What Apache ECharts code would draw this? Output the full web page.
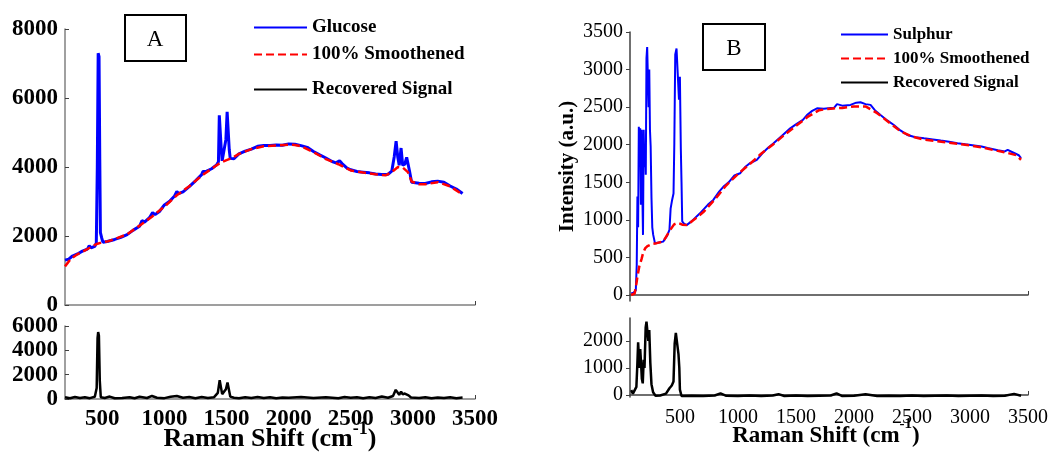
<!DOCTYPE html>
<html>
<head>
<meta charset="utf-8">
<script src="https://cdn.jsdelivr.net/npm/echarts@6/dist/echarts.min.js"></script>
<style>
html, body { margin: 0; padding: 0; background: #fff; }
#chart { width: 1048px; height: 455px; }
</style>
</head>
<body>
<div id="chart"></div>
<script>
// tick values
var xTicks = [500, 1000, 1500, 2000, 2500, 3000, 3500];
var yTicksATop = [0, 2000, 4000, 6000, 8000];
var yTicksABottom = [0, 2000, 4000, 6000];
var yTicksBTop = [0, 500, 1000, 1500, 2000, 2500, 3000, 3500];
var yTicksBBottom = [0, 1000, 2000];

// panel A: glucose spectrum [shift, intensity]
var glucose = [[200,1300],[230,1330],[260,1420],[300,1480],[340,1560],[380,1620],[395,1720],[410,1660],[440,1700],[452,1800],[460,4000],[467,7300],[474,7200],[480,4200],[485,2100],[495,1950],[505,1820],[540,1840],[600,1900],[650,1960],[700,2040],[750,2170],[800,2280],[820,2450],[840,2400],[880,2530],[905,2680],[925,2620],[960,2710],[1000,2900],[1040,3000],[1080,3150],[1100,3290],[1115,3230],[1150,3280],[1200,3430],[1250,3600],[1300,3780],[1310,3870],[1340,3880],[1380,3950],[1420,4060],[1435,4150],[1442,5500],[1450,5550],[1458,4500],[1465,4180],[1475,4200],[1495,4800],[1505,5600],[1513,5550],[1522,4500],[1530,4250],[1560,4240],[1600,4380],[1650,4460],[1700,4520],[1750,4600],[1800,4620],[1850,4620],[1900,4640],[1950,4630],[2000,4670],[2050,4660],[2100,4620],[2150,4570],[2200,4450],[2250,4350],[2300,4260],[2350,4160],[2380,4120],[2410,4180],[2430,4100],[2470,3970],[2500,3920],[2550,3870],[2600,3850],[2650,3830],[2700,3800],[2750,3780],[2800,3790],[2830,3880],[2850,4300],[2865,4750],[2878,4300],[2890,4050],[2905,4550],[2918,4050],[2935,4080],[2950,4280],[2962,4250],[2972,3900],[2990,3560],[3050,3530],[3100,3520],[3150,3570],[3200,3590],[3250,3560],[3300,3450],[3350,3360],[3400,3230]];
var glucoseSmooth = [[200,1120],[250,1350],[300,1470],[350,1560],[400,1660],[450,1760],[500,1820],[550,1850],[600,1910],[700,2050],[800,2300],[900,2560],[1000,2850],[1100,3180],[1200,3440],[1300,3750],[1400,4000],[1450,4120],[1500,4200],[1550,4270],[1600,4380],[1700,4520],[1800,4600],[1900,4620],[2000,4650],[2050,4640],[2100,4600],[2200,4430],[2300,4230],[2400,4080],[2500,3900],[2600,3840],[2700,3790],[2780,3760],[2830,3850],[2880,4000],[2920,3980],[2960,3850],[2990,3580],[3050,3500],[3100,3500],[3200,3560],[3300,3440],[3400,3200]];
var glucoseRecovered = [[200,150],[240,60],[280,160],[320,80],[360,150],[400,70],[440,180],[455,900],[462,5000],[467,5500],[473,5200],[480,1500],[488,150],[520,80],[560,200],[600,60],[660,80],[720,150],[760,60],[800,180],[860,80],[900,250],[940,100],[1000,70],[1050,180],[1100,250],[1150,100],[1200,160],[1250,60],[1300,170],[1350,80],[1400,150],[1430,500],[1445,1550],[1455,1400],[1465,400],[1480,250],[1495,800],[1508,1350],[1518,1200],[1530,200],[1560,100],[1600,70],[1650,150],[1700,80],[1750,160],[1800,80],[1850,140],[1900,60],[1950,120],[2000,100],[2100,160],[2200,80],[2300,150],[2400,70],[2450,160],[2500,100],[2550,140],[2600,60],[2650,150],[2700,80],[2750,200],[2800,100],[2840,250],[2862,750],[2875,650],[2890,350],[2905,600],[2918,380],[2935,450],[2950,550],[2965,300],[2985,120],[3050,80],[3100,150],[3150,60],[3200,120],[3250,80],[3300,150],[3350,70],[3400,120]];

// panel B: sulphur spectrum
var sulphur = [[80,20],[100,30],[120,60],[128,400],[134,1310],[140,900],[146,2240],[152,2000],[158,2220],[164,1200],[170,2200],[176,1400],[182,800],[188,2200],[194,1700],[200,2000],[206,1600],[212,3150],[218,3300],[224,3305],[230,2500],[236,3000],[242,2200],[248,1980],[255,1300],[262,900],[270,800],[285,690],[320,700],[356,710],[390,790],[410,865],[420,1150],[433,1265],[445,1350],[452,2020],[460,3200],[471,3280],[486,3280],[492,2600],[500,2905],[508,1950],[514,1500],[520,980],[535,950],[558,930],[600,980],[673,1087],[740,1200],[788,1265],[840,1380],[874,1440],[920,1500],[970,1590],[1019,1620],[1060,1700],[1100,1750],[1163,1797],[1220,1900],[1260,1960],[1307,2020],[1380,2120],[1451,2218],[1500,2270],[1560,2330],[1595,2395],[1640,2450],[1682,2485],[1740,2480],[1800,2490],[1825,2485],[1854,2540],[1900,2520],[1970,2530],[2020,2560],[2056,2565],[2100,2540],[2143,2530],[2180,2460],[2229,2395],[2290,2320],[2344,2262],[2400,2190],[2460,2130],[2530,2100],[2604,2085],[2680,2070],[2748,2055],[2820,2040],[2892,2020],[2960,2005],[3036,1990],[3100,1975],[3152,1955],[3240,1925],[3300,1910],[3325,1930],[3380,1890],[3420,1860],[3440,1820]];
var sulphurSmooth = [[80,0],[110,20],[125,150],[134,245],[150,380],[170,480],[183,560],[200,620],[220,650],[241,665],[260,680],[300,690],[356,710],[414,860],[450,940],[480,960],[500,950],[520,935],[560,930],[620,1000],[700,1100],[800,1270],[900,1460],[1000,1610],[1100,1740],[1200,1880],[1300,2000],[1400,2130],[1500,2250],[1600,2370],[1700,2460],[1800,2480],[1900,2490],[2000,2510],[2100,2510],[2200,2420],[2300,2300],[2400,2180],[2500,2110],[2600,2070],[2700,2050],[2800,2030],[2900,2010],[3000,1990],[3100,1965],[3200,1930],[3300,1900],[3400,1860],[3440,1800]];
var sulphurRecovered = [[80,180],[95,50],[110,0],[125,300],[133,1100],[140,1950],[147,1900],[152,1000],[158,1700],[165,1200],[172,600],[180,430],[188,1300],[195,1000],[205,2500],[212,2715],[220,2650],[228,2000],[236,2400],[245,1200],[255,400],[269,100],[290,-30],[330,-20],[380,50],[410,250],[430,350],[445,500],[455,1900],[465,2300],[478,2300],[488,1500],[495,1000],[500,200],[514,-40],[600,-30],[700,-40],[800,-20],[850,60],[900,-30],[1000,-40],[1100,-20],[1200,-40],[1300,-20],[1350,30],[1400,-40],[1500,-20],[1600,-40],[1700,-30],[1800,-20],[1850,60],[1900,-40],[2000,-30],[2100,30],[2200,-40],[2300,-30],[2400,-40],[2500,-20],[2600,-40],[2700,-30],[2800,-20],[2900,-40],[3000,-30],[3100,-20],[3200,-40],[3300,-30],[3380,40],[3440,-30]];

var serif = '"Liberation Serif", "Times New Roman", serif';
var myChart = echarts.init(document.getElementById('chart'), null, { renderer: 'canvas' });

function plain(v) { return String(v); }

function line(name, data, idx, color, width, dashed) {
    return {
        type: 'line', name: name, data: data,
        xAxisIndex: idx, yAxisIndex: idx,
        symbol: 'none', showSymbol: false, animation: false,
        lineStyle: { color: color, width: width, type: dashed ? [8, 4] : 'solid' },
        itemStyle: { color: color }
    };
}

// x axis for each of the four plots
function xAx(idx, min, labels, bold, size) {
    var ax = {
        type: 'value', gridIndex: idx, min: min, max: 3500,
        splitLine: { show: false },
        axisLine: { lineStyle: { color: bold ? '#808080' : '#404040', width: 1.5 } },
        axisTick: { show: true, inside: true, length: 4, customValues: [3500], lineStyle: { color: '#404040' } },
        axisLabel: { show: false }
    };
    if (labels) {
        ax.axisLabel = {
            show: true, customValues: xTicks, margin: bold ? 9 : 11, formatter: plain,
            fontFamily: serif, fontSize: size, fontWeight: bold ? 'bold' : 'normal', color: '#000'
        };
    }
    return ax;
}

function yAx(idx, min, max, ticks, bold, size, inside) {
    return {
        type: 'value', gridIndex: idx, min: min, max: max,
        splitLine: { show: false },
        axisLine: { show: true, lineStyle: { color: bold ? '#808080' : '#404040', width: 1.5 } },
        axisTick: { show: true, inside: inside, length: 4, customValues: ticks, lineStyle: { color: '#404040' } },
        axisLabel: {
            customValues: ticks, margin: 7, formatter: plain, hideOverlap: false,
            fontFamily: serif, fontSize: size, fontWeight: bold ? 'bold' : 'normal', color: '#000'
        }
    };
}

function legendItem(name, left, top, width, size) {
    return {
        data: [name], left: left, top: top, padding: 0,
        itemWidth: width, itemHeight: 14, selectedMode: false,
        itemStyle: { opacity: 0 },
        textStyle: { fontFamily: serif, fontWeight: 'bold', fontSize: size, color: '#000' }
    };
}

var xA = xAx(1, 200, true, true, 23);
xA.name = '{a|Raman Shift (cm}{s|-1}{a|)}';
xA.nameLocation = 'middle';
xA.nameGap = 21;
xA.nameMoveOverlap = false;
xA.nameTextStyle = {
    rich: {
        a: { fontFamily: serif, fontWeight: 'bold', fontSize: 26, color: '#000', verticalAlign: 'bottom' },
        s: { fontFamily: serif, fontWeight: 'bold', fontSize: 18, color: '#000', verticalAlign: 'bottom', padding: [0, 0, 14, 0] }
    }
};
var xB = xAx(3, 70, true, false, 20);
xB.name = '{a|Raman Shift (cm}{s|-1}{a|)}';
xB.nameLocation = 'middle';
xB.nameGap = 20;
xB.nameMoveOverlap = false;
xB.nameTextStyle = {
    padding: [0, 6, 0, 0],
    rich: {
        a: { fontFamily: serif, fontWeight: 'bold', fontSize: 23, color: '#000', verticalAlign: 'bottom' },
        s: { fontFamily: serif, fontWeight: 'bold', fontSize: 15, color: '#000', verticalAlign: 'bottom', padding: [0, 0, 16, 0] }
    }
};
var yB = yAx(2, -80, 3500, yTicksBTop, false, 20, false);
yB.name = 'Intensity (a.u.)';
yB.nameLocation = 'middle';
yB.nameGap = 52;
yB.nameMoveOverlap = false;
yB.nameTextStyle = { fontFamily: serif, fontWeight: 'bold', fontSize: 21, color: '#000' };

var option = {
    backgroundColor: '#fff',
    animation: false,
    grid: [
        { left: 65, top: 29, width: 410, height: 276, outerBoundsMode: 'none' },
        { left: 65, top: 326, width: 410, height: 73, outerBoundsMode: 'none' },
        { left: 630, top: 32, width: 398, height: 269, outerBoundsMode: 'none' },
        { left: 630, top: 318, width: 398, height: 79, outerBoundsMode: 'none' }
    ],
    xAxis: [xAx(0, 200, false, true), xA, xAx(2, 70, false, false), xB],
    yAxis: [
        yAx(0, 0, 8000, yTicksATop, true, 23, true),
        yAx(1, 0, 6000, yTicksABottom, true, 23, true),
        yB,
        yAx(3, -75, 2850, yTicksBBottom, false, 20, false)
    ],
    legend: [
        legendItem('Glucose', 253, 18, 53, 19),
        legendItem('100% Smoothened', 253, 45, 53, 19),
        legendItem('Recovered Signal', 253, 80, 53, 19),
        legendItem('Sulphur', 840, 26, 47, 17),
        legendItem('100% Smoothened', 840, 50, 47, 17),
        legendItem('Recovered Signal', 840, 74, 47, 17)
    ],
    series: [
        line('Glucose', glucose, 0, '#0000ff', 3, false),
        line('100% Smoothened', glucoseSmooth, 0, '#ff0000', 2.5, true),
        line('Recovered Signal', glucoseRecovered, 1, '#000000', 2.5, false),
        line('Sulphur', sulphur, 2, '#0000ff', 2, false),
        line('100% Smoothened', sulphurSmooth, 2, '#ff0000', 2.5, true),
        line('Recovered Signal', sulphurRecovered, 3, '#000000', 2.5, false)
    ],
    graphic: [
        { type: 'rect', shape: { x: 125, y: 15, width: 61, height: 46 }, style: { fill: '#fff', stroke: '#000', lineWidth: 2 } },
        { type: 'text', x: 155, y: 40, style: { text: 'A', font: '23px "Liberation Serif"', fill: '#000', align: 'center', verticalAlign: 'middle', textAlign: 'center', textVerticalAlign: 'middle' } },
        { type: 'rect', shape: { x: 703, y: 24, width: 62, height: 46 }, style: { fill: '#fff', stroke: '#000', lineWidth: 2 } },
        { type: 'text', x: 734, y: 49, style: { text: 'B', font: '23px "Liberation Serif"', fill: '#000', align: 'center', verticalAlign: 'middle', textAlign: 'center', textVerticalAlign: 'middle' } }
    ]
};
myChart.setOption(option);
</script>
</body>
</html>
